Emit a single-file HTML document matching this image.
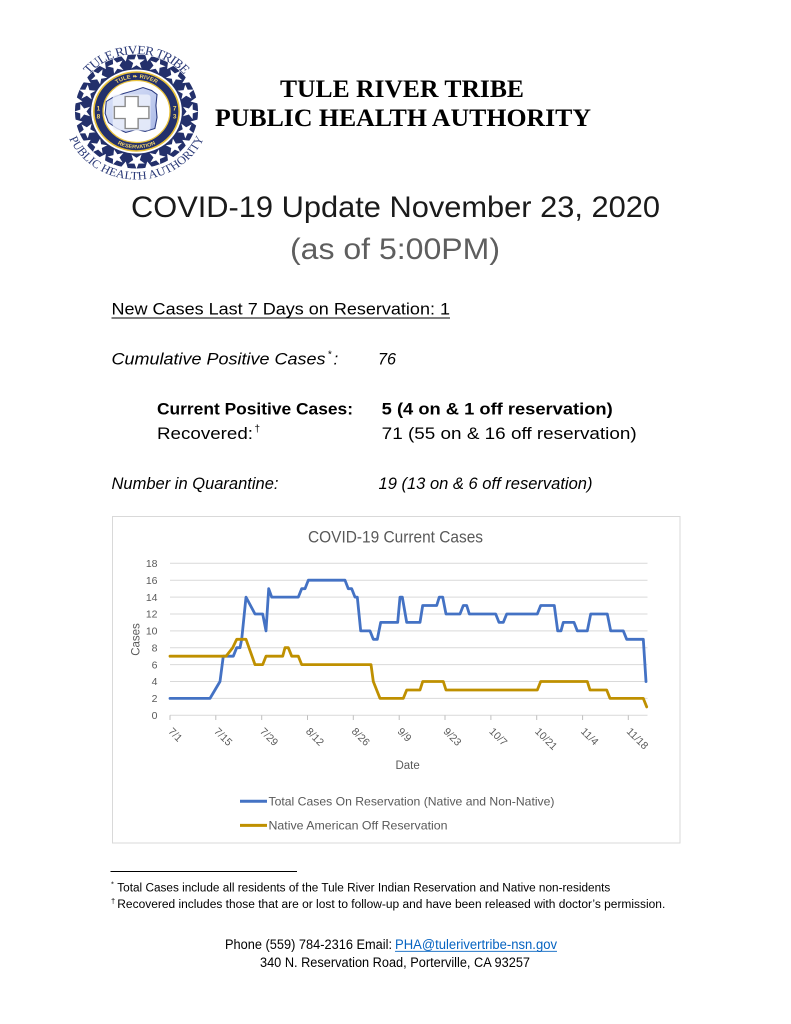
<!DOCTYPE html>
<html>
<head>
<meta charset="utf-8">
<style>
html,body{margin:0;padding:0;background:#fff;}
svg{display:block;}
</style>
</head>
<body>
<svg width="791" height="1024" viewBox="0 0 791 1024" xmlns="http://www.w3.org/2000/svg">
<rect width="791" height="1024" fill="#fff"/>
<defs>
  <path id="star" d="M0,-8 L1.9,-2.6 L7.6,-2.5 L3.05,1.0 L4.7,6.5 L0,3.2 L-4.7,6.5 L-3.05,1.0 L-7.6,-2.5 L-1.9,-2.6 Z" fill="#fff"/>
  <path id="notch" d="M-3.8,-58.5 L3.8,-58.5 L0,-51 Z" fill="#fff"/>
  <path id="arcTop" d="M -44.05 -36.96 A 57.5 57.5 0 0 1 44.05 -36.96"/>
  <path id="arcBot" d="M -63.9 23.26 A 68 68 0 0 0 63.9 23.26"/>
  <path id="bandTop" d="M -27.4 -19.2 A 33.5 33.5 0 0 1 27.4 -19.2"/>
  <path id="bandBot" d="M -30.3 21.2 A 37 37 0 0 0 30.3 21.2"/>
  <linearGradient id="mapg" x1="0" y1="0" x2="1" y2="1">
    <stop offset="0" stop-color="#dfe6fa"/>
    <stop offset="1" stop-color="#a9b8e6"/>
  </linearGradient>
</defs>

<!-- LOGO -->
<g transform="translate(136.5,111.5) scale(1.08,1)">
  <circle r="57" fill="#23306b"/>
  <g>
    <use href="#star" transform="rotate(0) translate(0,-49.5)"/>
    <use href="#star" transform="rotate(22.5) translate(0,-49.5)"/>
    <use href="#star" transform="rotate(45) translate(0,-49.5)"/>
    <use href="#star" transform="rotate(67.5) translate(0,-49.5)"/>
    <use href="#star" transform="rotate(90) translate(0,-49.5)"/>
    <use href="#star" transform="rotate(112.5) translate(0,-49.5)"/>
    <use href="#star" transform="rotate(135) translate(0,-49.5)"/>
    <use href="#star" transform="rotate(157.5) translate(0,-49.5)"/>
    <use href="#star" transform="rotate(180) translate(0,-49.5)"/>
    <use href="#star" transform="rotate(202.5) translate(0,-49.5)"/>
    <use href="#star" transform="rotate(225) translate(0,-49.5)"/>
    <use href="#star" transform="rotate(247.5) translate(0,-49.5)"/>
    <use href="#star" transform="rotate(270) translate(0,-49.5)"/>
    <use href="#star" transform="rotate(292.5) translate(0,-49.5)"/>
    <use href="#star" transform="rotate(315) translate(0,-49.5)"/>
    <use href="#star" transform="rotate(337.5) translate(0,-49.5)"/>
    <use href="#notch" transform="rotate(11.25)"/>
    <use href="#notch" transform="rotate(33.75)"/>
    <use href="#notch" transform="rotate(56.25)"/>
    <use href="#notch" transform="rotate(78.75)"/>
    <use href="#notch" transform="rotate(101.25)"/>
    <use href="#notch" transform="rotate(123.75)"/>
    <use href="#notch" transform="rotate(146.25)"/>
    <use href="#notch" transform="rotate(168.75)"/>
    <use href="#notch" transform="rotate(191.25)"/>
    <use href="#notch" transform="rotate(213.75)"/>
    <use href="#notch" transform="rotate(236.25)"/>
    <use href="#notch" transform="rotate(258.75)"/>
    <use href="#notch" transform="rotate(281.25)"/>
    <use href="#notch" transform="rotate(303.75)"/>
    <use href="#notch" transform="rotate(326.25)"/>
    <use href="#notch" transform="rotate(348.75)"/>
  </g>
  <circle r="42" fill="#fff"/>
  <circle r="39.5" fill="#23306b" stroke="#e9c23a" stroke-width="1.5"/>
  <circle r="31" fill="#fff" stroke="#e9c23a" stroke-width="1.2"/>
  <path d="M-28,-10 L-22,-14 L-12,-18 L-2,-21 L6,-24 L14,-21 L19,-17 L18,-6 L19,6 L17,17 L8,20 L0,18 L-10,21 L-18,17 L-26,11 L-29,2 Z" fill="url(#mapg)" stroke="#2a3a80" stroke-width="1"/>
  <rect x="-22" y="-17" width="35" height="36" rx="3" fill="#eef1fb" opacity="0.8"/>
  <path d="M-10.5,-15 L1.5,-15 L1.5,-5 L11.5,-5 L11.5,7 L1.5,7 L1.5,17 L-10.5,17 L-10.5,7 L-20.5,7 L-20.5,-5 L-10.5,-5 Z" fill="#fff" stroke="#8a8a8a" stroke-width="1.3"/>
  <text font-family="Liberation Sans, sans-serif" font-size="5.5" font-weight="bold" fill="#f1d46a"><textPath href="#bandTop" startOffset="50%" text-anchor="middle">TULE ❧ RIVER</textPath></text>
  <text font-family="Liberation Sans, sans-serif" font-size="5.2" font-weight="bold" fill="#f1d46a"><textPath href="#bandBot" startOffset="50%" text-anchor="middle">RESERVATION</textPath></text>
  <text x="-35.3" y="-1" font-family="Liberation Sans, sans-serif" font-size="6" font-weight="bold" fill="#f1d46a" text-anchor="middle">1</text>
  <text x="-35.3" y="7" font-family="Liberation Sans, sans-serif" font-size="6" font-weight="bold" fill="#f1d46a" text-anchor="middle">8</text>
  <text x="35.3" y="-1" font-family="Liberation Sans, sans-serif" font-size="6" font-weight="bold" fill="#f1d46a" text-anchor="middle">7</text>
  <text x="35.3" y="7" font-family="Liberation Sans, sans-serif" font-size="6" font-weight="bold" fill="#f1d46a" text-anchor="middle">3</text>
  <text font-family="Liberation Serif, serif" font-size="12.5" fill="#2b3a78"><textPath href="#arcTop" startOffset="50%" text-anchor="middle" textLength="100" lengthAdjust="spacing">TULE RIVER TRIBE</textPath></text>
  <text font-family="Liberation Serif, serif" font-size="11.5" fill="#2b3a78"><textPath href="#arcBot" startOffset="50%" text-anchor="middle">PUBLIC HEALTH AUTHORITY</textPath></text>
</g>

<!-- HEADER -->
<text x="402" y="97" font-family="Liberation Serif, serif" font-weight="bold" font-size="25.5" text-anchor="middle" textLength="244" lengthAdjust="spacingAndGlyphs" fill="#000">TULE RIVER TRIBE</text>
<text x="403" y="126" font-family="Liberation Serif, serif" font-weight="bold" font-size="25.5" text-anchor="middle" textLength="376" lengthAdjust="spacingAndGlyphs" fill="#000">PUBLIC HEALTH AUTHORITY</text>

<!-- TITLE -->
<text x="131" y="217" font-family="Liberation Sans, sans-serif" font-size="30" textLength="529" lengthAdjust="spacingAndGlyphs" fill="#1a1a1a">COVID-19 Update November 23, 2020</text>
<text x="290" y="259" font-family="Liberation Sans, sans-serif" font-size="30" textLength="210" lengthAdjust="spacingAndGlyphs" fill="#5e5e5e">(as of 5:00PM)</text>

<!-- STATS -->
<g font-family="Liberation Sans, sans-serif" font-size="17" fill="#000">
  <text x="111.5" y="314.5" textLength="338.5" lengthAdjust="spacingAndGlyphs">New Cases Last 7 Days on Reservation: 1</text>
  <line x1="111.5" y1="318" x2="450" y2="318" stroke="#000" stroke-width="1.1"/>

  <text x="111.5" y="364.5" font-style="italic" textLength="214" lengthAdjust="spacingAndGlyphs">Cumulative Positive Cases</text>
  <text x="327.5" y="357.5" font-style="italic" font-size="10">*</text>
  <text x="333.5" y="364.5" font-style="italic">:</text>
  <text x="378" y="364.5" font-style="italic" textLength="18" lengthAdjust="spacingAndGlyphs">76</text>

  <text x="157" y="414.5" font-weight="bold" textLength="196" lengthAdjust="spacingAndGlyphs">Current Positive Cases:</text>
  <text x="381.7" y="414.5" font-weight="bold" textLength="231" lengthAdjust="spacingAndGlyphs">5 (4 on &amp; 1 off reservation)</text>

  <text x="157" y="438.8" textLength="96" lengthAdjust="spacingAndGlyphs">Recovered:</text>
  <text x="254.5" y="432" font-size="10">†</text>
  <text x="381.7" y="438.8" textLength="255" lengthAdjust="spacingAndGlyphs">71 (55 on &amp; 16 off reservation)</text>

  <text x="111.5" y="489" font-style="italic" textLength="167" lengthAdjust="spacingAndGlyphs">Number in Quarantine:</text>
  <text x="378.5" y="489" font-style="italic" textLength="214" lengthAdjust="spacingAndGlyphs">19 (13 on &amp; 6 off reservation)</text>
</g>

<!-- CHART -->
<rect x="112.5" y="516.5" width="567.5" height="326.5" fill="#fff" stroke="#d9d9d9" stroke-width="1"/>
<text x="308" y="542.4" font-family="Liberation Sans, sans-serif" font-size="17" fill="#595959" textLength="175" lengthAdjust="spacingAndGlyphs">COVID-19 Current Cases</text>

<g stroke="#d9d9d9" stroke-width="1">
  <line x1="170" y1="563.3" x2="647.5" y2="563.3"/>
  <line x1="170" y1="580.2" x2="647.5" y2="580.2"/>
  <line x1="170" y1="597.1" x2="647.5" y2="597.1"/>
  <line x1="170" y1="614.0" x2="647.5" y2="614.0"/>
  <line x1="170" y1="630.9" x2="647.5" y2="630.9"/>
  <line x1="170" y1="647.7" x2="647.5" y2="647.7"/>
  <line x1="170" y1="664.6" x2="647.5" y2="664.6"/>
  <line x1="170" y1="681.5" x2="647.5" y2="681.5"/>
  <line x1="170" y1="698.4" x2="647.5" y2="698.4"/>
  <line x1="170" y1="715.3" x2="647.5" y2="715.3"/>
</g>
<g stroke="#bfbfbf" stroke-width="1">
  <line x1="170" y1="715.3" x2="170" y2="720"/>
  <line x1="215.8" y1="715.3" x2="215.8" y2="720"/>
  <line x1="261.7" y1="715.3" x2="261.7" y2="720"/>
  <line x1="307.5" y1="715.3" x2="307.5" y2="720"/>
  <line x1="353.3" y1="715.3" x2="353.3" y2="720"/>
  <line x1="399.2" y1="715.3" x2="399.2" y2="720"/>
  <line x1="445" y1="715.3" x2="445" y2="720"/>
  <line x1="490.9" y1="715.3" x2="490.9" y2="720"/>
  <line x1="536.7" y1="715.3" x2="536.7" y2="720"/>
  <line x1="582.6" y1="715.3" x2="582.6" y2="720"/>
  <line x1="628.3" y1="715.3" x2="628.3" y2="720"/>
</g>

<g font-family="Liberation Sans, sans-serif" font-size="10.5" fill="#595959" text-anchor="end">
  <text x="157.5" y="567">18</text>
  <text x="157.5" y="583.9">16</text>
  <text x="157.5" y="600.8">14</text>
  <text x="157.5" y="617.7">12</text>
  <text x="157.5" y="634.6">10</text>
  <text x="157.5" y="651.4">8</text>
  <text x="157.5" y="668.3">6</text>
  <text x="157.5" y="685.2">4</text>
  <text x="157.5" y="702.1">2</text>
  <text x="157.5" y="719">0</text>
</g>

<g font-family="Liberation Sans, sans-serif" font-size="10.5" fill="#595959">
  <text transform="translate(167.7,732) rotate(45)">7/1</text>
  <text transform="translate(213.5,732) rotate(45)">7/15</text>
  <text transform="translate(259.4,732) rotate(45)">7/29</text>
  <text transform="translate(305.2,732) rotate(45)">8/12</text>
  <text transform="translate(351,732) rotate(45)">8/26</text>
  <text transform="translate(396.9,732) rotate(45)">9/9</text>
  <text transform="translate(442.7,732) rotate(45)">9/23</text>
  <text transform="translate(488.6,732) rotate(45)">10/7</text>
  <text transform="translate(534.4,732) rotate(45)">10/21</text>
  <text transform="translate(580.3,732) rotate(45)">11/4</text>
  <text transform="translate(626,732) rotate(45)">11/18</text>
</g>

<text transform="translate(139.5,639.5) rotate(-90)" font-family="Liberation Sans, sans-serif" font-size="11.5" fill="#595959" text-anchor="middle">Cases</text>
<text x="407.6" y="769" font-family="Liberation Sans, sans-serif" font-size="11.5" fill="#595959" text-anchor="middle">Date</text>

<polyline fill="none" stroke="#4472c4" stroke-width="2.8" stroke-linejoin="round" stroke-linecap="round"
 points="170,698.4 210,698.4 220,681.5 223.3,656.2 233.3,656.2 236.7,647.7 240,647.7 241.7,639.3 246,597.1 255,614.0 262.7,614.0 266,630.9 268.7,588.7 271.7,597.1 298.3,597.1 301.7,588.7 305,588.7 308.3,580.2 345,580.2 348.3,588.7 351.7,588.7 355,597.1 357.3,597.1 360.7,630.9 370,630.9 373.3,639.3 377.3,639.3 380.7,622.4 397.7,622.4 400,597.1 402.3,597.1 406.7,622.4 420,622.4 422.7,605.5 436.7,605.5 439.3,597.1 442.7,597.1 446,614.0 460,614.0 463.3,605.5 466.7,605.5 469.3,614.0 495.7,614.0 499,622.4 503.3,622.4 506.7,614.0 537.3,614.0 540.7,605.5 554.3,605.5 557.7,630.9 561,630.9 563.3,622.4 574,622.4 577.3,630.9 587.3,630.9 590.7,614.0 607.3,614.0 610.7,630.9 623.3,630.9 626.7,639.3 643.3,639.3 646,681.5"/>
<polyline fill="none" stroke="#bf9000" stroke-width="2.8" stroke-linejoin="round" stroke-linecap="round"
 points="170,656.2 226,656.2 232.7,647.7 236.7,639.3 246,639.3 255,664.6 262.7,664.6 266,656.2 282.7,656.2 285,647.7 288.3,647.7 291.7,656.2 298.3,656.2 301.7,664.6 371,664.6 373.3,681.5 380,698.4 403.3,698.4 406.7,690.0 420,690.0 422.7,681.5 443.3,681.5 446,690.0 537.3,690.0 540.7,681.5 587.3,681.5 590,690.0 606.7,690.0 610,698.4 643.3,698.4 646.7,706.9"/>

<!-- legend -->
<line x1="240" y1="801.3" x2="267" y2="801.3" stroke="#4472c4" stroke-width="3"/>
<text x="268.5" y="805.5" font-family="Liberation Sans, sans-serif" font-size="12" fill="#595959" textLength="286" lengthAdjust="spacingAndGlyphs">Total Cases On Reservation (Native and Non-Native)</text>
<line x1="240" y1="825.4" x2="267" y2="825.4" stroke="#bf9000" stroke-width="3"/>
<text x="268.5" y="829.6" font-family="Liberation Sans, sans-serif" font-size="12" fill="#595959" textLength="179" lengthAdjust="spacingAndGlyphs">Native American Off Reservation</text>

<!-- FOOTNOTES -->
<line x1="110.5" y1="871.5" x2="297" y2="871.5" stroke="#000" stroke-width="0.9"/>
<g font-family="Liberation Sans, sans-serif" fill="#000">
  <text x="111" y="886.5" font-size="7.5">*</text>
  <text x="117.3" y="891.7" font-size="11.5" textLength="493" lengthAdjust="spacingAndGlyphs">Total Cases include all residents of the Tule River Indian Reservation and Native non-residents</text>
  <text x="111" y="903.5" font-size="7.5">†</text>
  <text x="117.3" y="908.2" font-size="11.5" textLength="548" lengthAdjust="spacingAndGlyphs">Recovered includes those that are or lost to follow-up and have been released with doctor’s permission.</text>
</g>

<!-- CONTACT -->
<g font-family="Liberation Sans, sans-serif" font-size="13.5">
  <text x="225" y="949" fill="#000" textLength="167" lengthAdjust="spacingAndGlyphs">Phone (559) 784-2316 Email:</text>
  <text x="395" y="949" fill="#0563c1" textLength="162" lengthAdjust="spacingAndGlyphs">PHA@tulerivertribe-nsn.gov</text>
  <line x1="395" y1="951.3" x2="557" y2="951.3" stroke="#0563c1" stroke-width="0.9"/>
  <text x="260" y="967" fill="#000" textLength="270" lengthAdjust="spacingAndGlyphs">340 N. Reservation Road, Porterville, CA 93257</text>
</g>
</svg>
</body>
</html>
